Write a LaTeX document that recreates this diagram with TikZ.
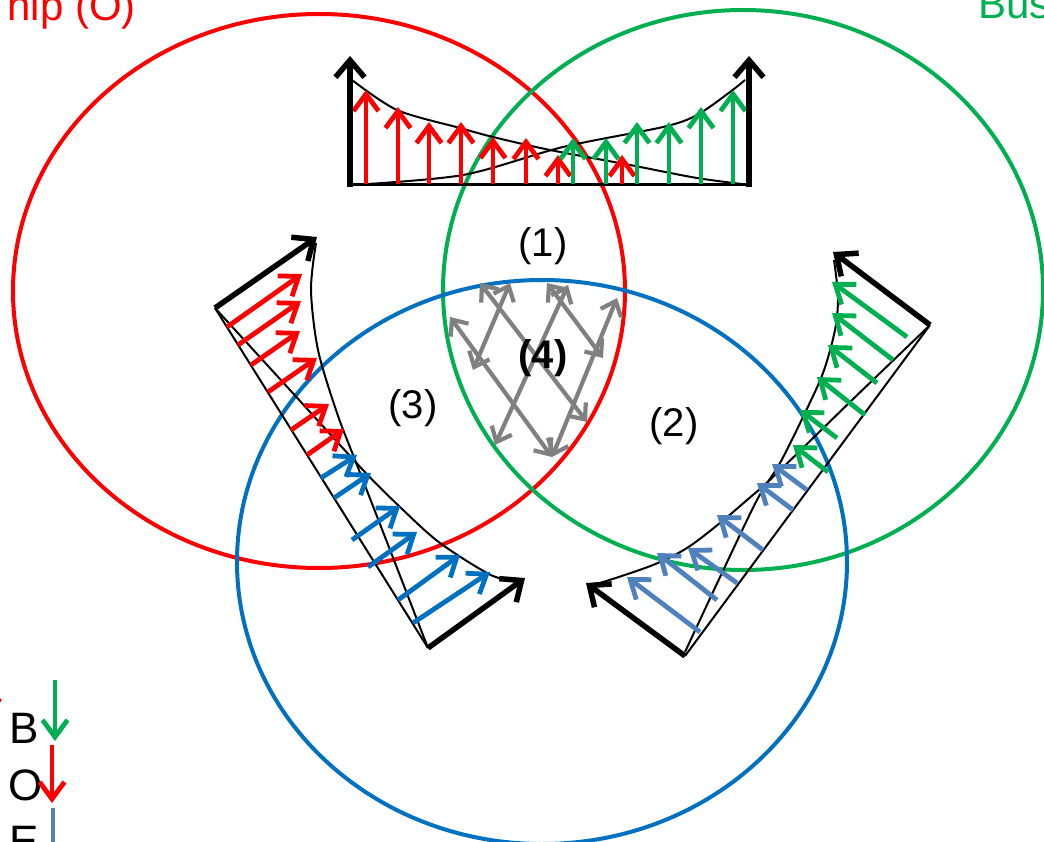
\documentclass[tikz,border=0pt]{standalone}
\usepackage{fontspec}
\setmainfont{Liberation Sans}
\usetikzlibrary{arrows.meta,calc}
\definecolor{cred}{RGB}{255,0,0}
\definecolor{cgreen}{RGB}{0,176,80}
\definecolor{cblue}{RGB}{0,112,192}
\definecolor{csteel}{RGB}{79,129,189}
\definecolor{cgray}{RGB}{128,128,128}
\tikzset{
  ring/.style={line width=4pt},
  force/.style={line width=4.8pt, -{Straight Barb[length=17pt,width=25pt]}},
  bigarrow/.style={line width=5.5pt, -{Straight Barb[length=17pt,width=29pt]}},
  envl/.style={line width=2pt, black},
  grayarr/.style={cgray, line width=4.2pt, {Straight Barb[length=13pt,width=22pt]}-{Straight Barb[length=13pt,width=22pt]}},
  lbl/.style={font=\fontsize{40}{48}\selectfont, inner sep=0pt},
  leg/.style={font=\fontsize{44}{52}\selectfont, inner sep=0pt},
}
\begin{document}
\begin{tikzpicture}[x=1pt,y=-1pt]
\useasboundingbox (0,0) rectangle (1044,842);
\clip (0,0) rectangle (1044,842);
% circles
\draw[cred, ring] (319,291) ellipse [x radius=306, y radius=277];
\draw[cgreen, ring] (743,290) ellipse [x radius=300, y radius=280];
\draw[cblue, ring] (542,562) ellipse [x radius=305, y radius=282];

% ---------- top group
\coordinate (TL) at (348,185);
\coordinate (TR) at (751,185);
\draw[envl, line width=3pt] (TL) -- (TR);
\draw[envl] plot[smooth] coordinates {(352,80) (397,110) (460,128) (493,137) (550,150) (630,165) (697,178) (750,185)};
\draw[envl] plot[smooth] coordinates {(352,185) (463,175) (563,147) (663,127) (697,115) (730,92) (745,80)};
\foreach \x/\y in {366/90,398/107,429/122,461/122,493/137,526/138,558/155,622/155}
  \draw[force, cred] (\x,184) -- (\x,\y);
\foreach \x/\y in {573/138,606/138,637/122,669/122,701/107,733/90}
  \draw[force, cgreen] (\x,184) -- (\x,\y);
\draw[bigarrow] (350,187) -- (350,56);
\draw[bigarrow] (749,187) -- (749,56);

% ---------- left group
\coordinate (LA) at (215,308);
\coordinate (LB) at (428,648);
\draw[envl] (LA) -- (LB);
\draw[envl] plot[smooth] coordinates {(316,243) (311,290) (318,350) (337,413) (357,465) (392,555) (428,648)};
\draw[envl] plot[smooth] coordinates {(215,308) (290,390) (363,470) (400,507) (440,543) (493,576) (522,580)};
\foreach \a/\b/\c/\d in {227/327/302/274, 238/345/301/301, 251/365/300/331, 268/392/317/358, 291/430/329/404, 307/455/344/429}
  \draw[force, cred] (\a,\b) -- (\c,\d);
\foreach \a/\b/\c/\d in {321/478/357/455, 334/498/371/473, 352/540/400/506, 368/567/417/532, 398/600/460/555, 413/623/490/572}
  \draw[force, cblue] (\a,\b) -- (\c,\d);
\draw[bigarrow] (LA) -- (317,237);
\draw[bigarrow] (LB) -- (525,578);

% ---------- right group
\coordinate (RA) at (930,325);
\coordinate (RB) at (685,656);
\draw[envl] (RA) -- (RB);
\draw[envl] plot[smooth] coordinates {(834,260) (838,297) (835,330) (823,373) (803,417) (780,463) (757,500) (721,575) (685,652)};
\draw[envl] plot[smooth] coordinates {(928,327) (850,402) (773,477) (747,500) (720,523) (687,548) (653,565) (603,582) (590,584)};
\foreach \a/\b/\c/\d in {907/337/832/282, 893/360/832/313, 877/383/828/345, 865/415/817/377, 837/438/800/410, 828/472/793/445}
  \draw[force, cgreen] (\a,\b) -- (\c,\d);
\foreach \a/\b/\c/\d in {807/490/772/464, 793/510/757/483, 763/550/717/515, 737/583/688/548, 717/600/657/553, 700/632/627/577}
  \draw[force, csteel] (\a,\b) -- (\c,\d);
\draw[bigarrow] (RA) -- (833,252);
\draw[bigarrow] (RB) -- (586,583);

% ---------- centre (4) gray arrows
\draw[grayarr] (450,317) -- (552,457);
\draw[grayarr] (480,283) -- (587,422);
\draw[grayarr] (547,283) -- (603,358);
\draw[grayarr] (510,283) -- (473,370);
\draw[grayarr] (568,285) -- (495,445);
\draw[grayarr] (617,298) -- (552,457);

% ---------- labels
\node[lbl] (n1) at (543,246) {(1)};
\node[lbl] (n2) at (674,426) {(2)};
\node[lbl] (n3) at (413,408) {(3)};
\node[lbl, font=\fontsize{40}{48}\selectfont\bfseries] (n4) at (543,358) {(4)};
\node[lbl, text=cred, anchor=base east, font=\fontsize{42}{50}\selectfont] (tO) at (136,21) {hip (O)};
\node[lbl, text=cgreen, anchor=base west, font=\fontsize{42}{50}\selectfont] (tB) at (978,19) {Bus};

% ---------- legend
\node[leg, anchor=base west] (lB) at (9,743) {B};
\node[leg, anchor=base west] (lO) at (8,800) {O};
\node[leg, anchor=base west] (lE) at (9,856) {E};
\coordinate (g1) at (55,680);
\coordinate (g2) at (55,741);
\coordinate (r1) at (52,745);
\coordinate (r2) at (52,803);
\coordinate (b1) at (53,808);
\coordinate (b2) at (53,850);
\draw[force, cgreen] (g1) -- (g2);
\draw[force, cred] (r1) -- (r2);
\draw[csteel, line width=4.8pt] (b1) -- (b2);
\draw[cred, line width=2pt] (-2,704) -- (1,699);
\end{tikzpicture}
\end{document}
